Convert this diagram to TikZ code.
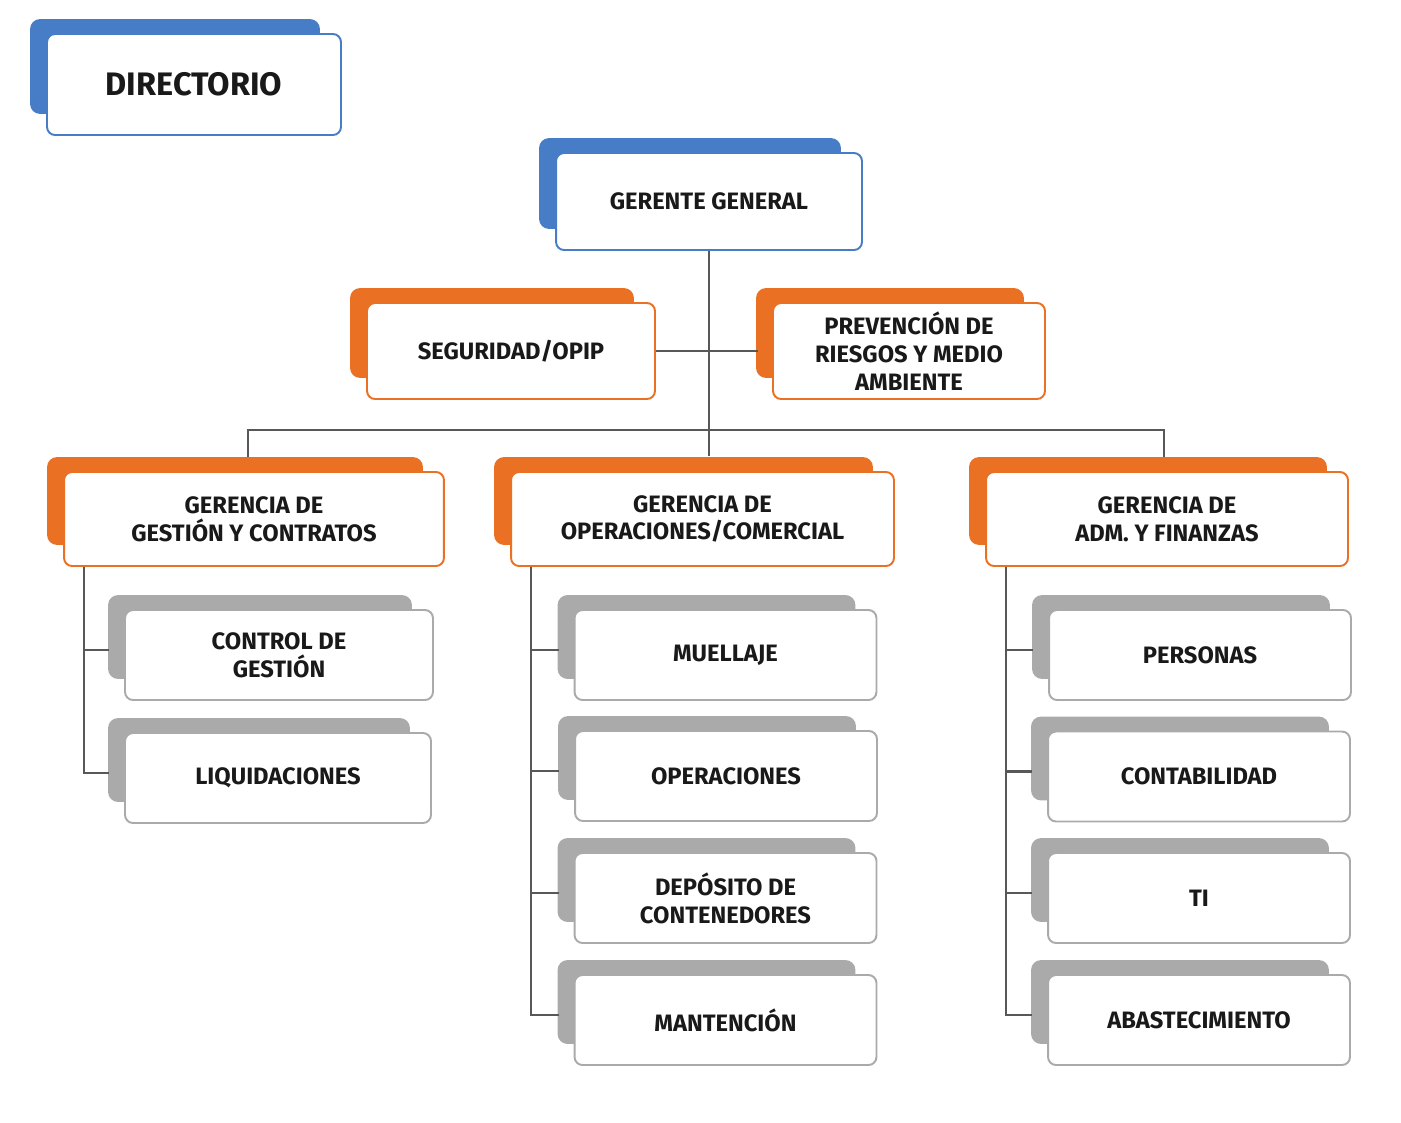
\documentclass[tikz,border=0pt]{standalone}
\usepackage{fontspec}
\setmainfont{Fira Sans}
\usetikzlibrary{calc, backgrounds}
\definecolor{dirblue}{RGB}{70,125,198}
\definecolor{mgmtorange}{RGB}{234,112,36}
\definecolor{unitgray}{RGB}{170,170,170}
\definecolor{linkgray}{RGB}{88,88,88}

\begin{document}
\begin{tikzpicture}[
    x=0.02cm, y=-0.02cm, % one unit = one pixel of the sketch
    org/.style={rectangle, fill=white, line width=1.1pt, rounded corners=1.6mm, align=center, text=black!90, font=\fontsize{13.5}{15.8}\selectfont\bfseries, inner sep=2pt},
    topbox/.style={org, draw=dirblue},
    mgmt/.style={org, draw=mgmtorange, minimum height=1.88cm},
    unit/.style={org, draw=unitgray, minimum width=6.04cm, minimum height=1.8cm},
    conn/.style={draw=linkgray, line width=1.2pt},
]
\useasboundingbox (0,0) rectangle (1401,1123);

% Directorio and general manager
\node[topbox, minimum width=5.88cm, minimum height=2.02cm, font=\fontsize{18.5}{21}\selectfont\bfseries] (dir) at (194,84.5) {DIRECTORIO};
\node[topbox, minimum width=6.12cm, minimum height=1.94cm] (gg) at (709,201.5) {GERENTE GENERAL};

% Staff units
\node[mgmt, minimum width=5.76cm, minimum height=1.92cm] (seg) at (511,351) {SEGURIDAD/OPIP};
\node[mgmt, minimum width=5.44cm, minimum height=1.92cm] (prev) at (909,351) {PREVENCIÓN DE\\RIESGOS Y MEDIO\\AMBIENTE};

% Management
\node[mgmt, minimum width=7.60cm] (gA) at (254,519) {GERENCIA DE\\GESTIÓN Y CONTRATOS};
\node[mgmt, minimum width=7.66cm] (gB) at (702.5,519) {GERENCIA DE\\OPERACIONES/COMERCIAL};
\node[mgmt, minimum width=7.24cm] (gC) at (1167,519) {GERENCIA DE\\ADM. Y FINANZAS};

% Units
\node[unit, minimum width=6.16cm] (ctrl) at (279,655) {CONTROL DE\\GESTIÓN};
\node[unit, minimum width=6.12cm] (liq) at (278,778) {LIQUIDACIONES};

\node[unit] (mue) at (725.5,655) {MUELLAJE};
\node[unit] (ope) at (726,776) {OPERACIONES};
\node[unit] (dep) at (725.5,898) {DEPÓSITO DE\\CONTENEDORES};
\node[unit] (man) at (725.5,1020) {MANTENCIÓN};

\node[unit] (per) at (1200,655) {PERSONAS};
\node[unit] (con) at (1199,776.5) {CONTABILIDAD};
\node[unit] (ti) at (1199,898) {TI};
\node[unit] (aba) at (1199,1020) {ABASTECIMIENTO};

% Coloured tabs behind the boxes
\begin{scope}[on background layer]
\foreach \n/\c in {dir/dirblue, gg/dirblue, seg/mgmtorange, prev/mgmtorange, gA/mgmtorange, gB/mgmtorange, gC/mgmtorange, ctrl/unitgray, liq/unitgray, mue/unitgray, ope/unitgray, dep/unitgray, man/unitgray, per/unitgray, con/unitgray, ti/unitgray, aba/unitgray}
    \fill[\c, rounded corners=2mm] ($(\n.north west)+(-16,-14)$) rectangle ($(\n.south east)+(-22,-22)$);
\end{scope}

% Connectors
\coordinate (bar) at (708,430);
\draw[conn] (gg.south) -- ($(gg.south |- gB.north)+(0,-15)$);
\draw[conn] ($(gA.north)+(-6,-14)$) |- (bar) -| ($(gC.north)+(-3,-14)$);
\draw[conn] (seg.east) -- ($(prev.west)+(-14,0)$);

\foreach \p/\k in {gA/ctrl, gA/liq, gB/mue, gB/ope, gB/dep, gB/man, gC/per, gC/con, gC/ti, gC/aba}
    \draw[conn] ($(\p.south west)+(21,0)$) |- ($(\k.west)+(-15,-5)$);

\end{tikzpicture}
\end{document}
